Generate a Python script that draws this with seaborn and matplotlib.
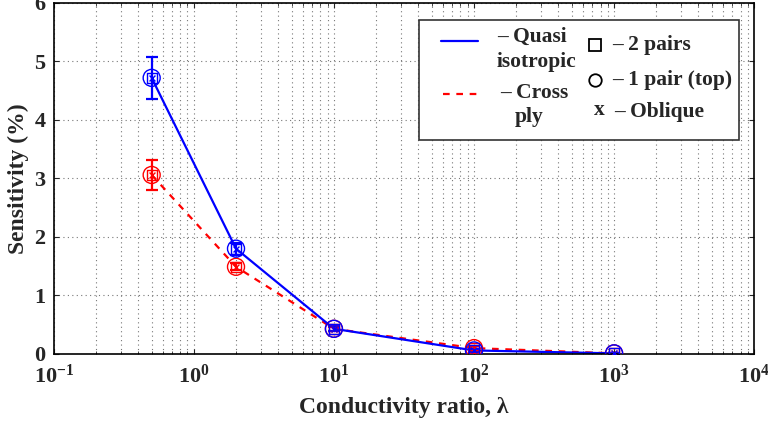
import matplotlib.pyplot as plt
import seaborn as sns
import pandas as pd
import numpy as np
from matplotlib.patches import Rectangle

sns.set_style("ticks")
plt.rcParams['font.family'] = ['Liberation Serif', 'DejaVu Serif']
plt.rcParams['font.weight'] = 'bold'
plt.rcParams['mathtext.fontset'] = 'custom'
plt.rcParams['mathtext.rm'] = 'Liberation Serif:bold'
plt.rcParams['mathtext.it'] = 'Liberation Serif:bold'
plt.rcParams['mathtext.bf'] = 'Liberation Serif:bold'

ratio = [0.5, 2, 10, 100, 1000]
quasi = [4.72, 1.80, 0.43, 0.06, 0.01]
quasi_err = [0.36, 0.10, 0.04, 0.02, 0.01]
cross = [3.06, 1.49, 0.43, 0.10, 0.01]
cross_err = [0.25, 0.06, 0.03, 0.03, 0.01]

df = pd.DataFrame({
    'ratio': ratio * 2,
    'sens': quasi + cross,
    'layup': ['Quasi'] * 5 + ['Cross'] * 5,
})

fig = plt.figure(figsize=(7.68, 4.28), dpi=100)
ax = fig.add_axes([0.070, 0.173, 0.912, 0.820])

sns.lineplot(data=df, x='ratio', y='sens', hue='layup', style='layup',
             palette={'Quasi': 'blue', 'Cross': 'red'},
             dashes={'Quasi': '', 'Cross': (3, 3)},
             hue_order=['Cross', 'Quasi'], lw=1.6, legend=False, ax=ax)

for y, e, c in [(cross, cross_err, 'red'), (quasi, quasi_err, 'blue')]:
    ax.errorbar(ratio, y, yerr=e, fmt='none', ecolor=c, elinewidth=1.6, capsize=4, capthick=1.6)
    ax.scatter(ratio, y, marker='o', s=150, facecolors='none', edgecolors=c, lw=1, zorder=4)
    ax.scatter(ratio, y, marker='s', s=55, facecolors='none', edgecolors=c, lw=1, zorder=4)
    ax.scatter(ratio, y, marker='x', s=18, color=c, lw=1, zorder=4)

ax.set_xscale('log')
ax.set_xlim(0.1, 1e4)
ax.set_ylim(0, 6)
ax.set_yticks(range(7))
ax.grid(True, which='both', ls=(0, (1, 3)), color='#777777', lw=0.8)
ax.tick_params(which='both', direction='in', top=True, right=True, labelsize=16)
ax.tick_params(axis='x', pad=8)
ax.tick_params(axis='y', pad=6)
for s in ax.spines.values():
    s.set_color('black')
    s.set_linewidth(1.2)
ax.set_xlabel('Conductivity ratio, λ', fontsize=17, fontweight='bold', labelpad=6)
ax.set_ylabel('Sensitivity (%)', fontsize=17, fontweight='bold', labelpad=4)

# legend drawn by hand, MATLAB style (pixel positions -> axes fraction)
def fx(px):
    return (px - 53.8) / 700.4

def fy(py):
    return (354 - py) / 351.0

kw = dict(transform=ax.transAxes, clip_on=False, zorder=7)
ax.add_patch(Rectangle((fx(419), fy(140)), fx(739) - fx(419), fy(20) - fy(140),
                       transform=ax.transAxes, facecolor='white', edgecolor='#333333',
                       lw=1.2, zorder=6))
ax.plot([fx(441), fx(478)], [fy(41), fy(41)], color='blue', lw=1.6, **kw)
ax.plot([fx(443), fx(478)], [fy(94), fy(94)], color='red', lw=1.6, ls=(0, (3, 3)), **kw)
ax.plot(fx(595), fy(45), marker='s', color='black', mfc='none', ms=9, mew=1.3, **kw)
ax.plot(fx(595), fy(80), marker='o', color='black', mfc='none', ms=9, mew=1.3, **kw)

tkw = dict(transform=ax.transAxes, fontsize=15.5, fontweight='bold', va='center',
           ha='left', zorder=7)
ax.text(fx(497), fy(37), '– Quasi', **tkw)
ax.text(fx(497), fy(62), 'isotropic', **tkw)
ax.text(fx(500), fy(93), '– Cross', **tkw)
ax.text(fx(515), fy(117), 'ply', **tkw)
ax.text(fx(612), fy(45), '– 2 pairs', **tkw)
ax.text(fx(612), fy(80), '– 1 pair (top)', **tkw)
ax.text(fx(594), fy(110), 'x', **tkw)
ax.text(fx(614), fy(112), '– Oblique', **tkw)

fig.savefig('out.png', dpi=100)
